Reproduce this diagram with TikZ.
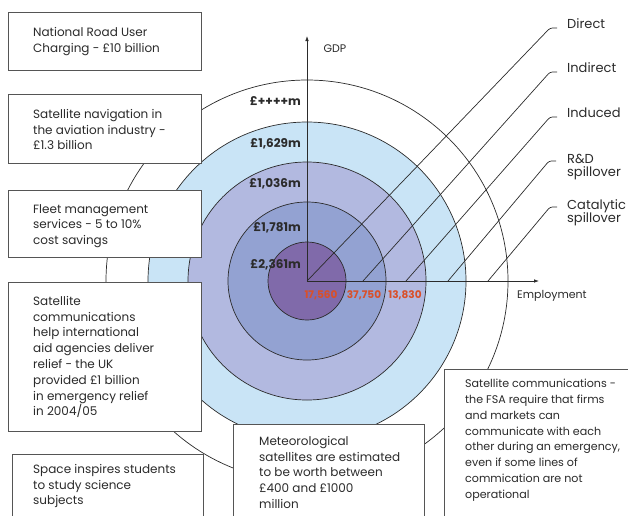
\documentclass[tikz,border=0pt]{standalone}
\usepackage{fontspec}
\setmainfont{Poppins}
\usetikzlibrary{arrows.meta}
\definecolor{ringD}{HTML}{C9E4F6}
\definecolor{ringC}{HTML}{B2B9E0}
\definecolor{ringB}{HTML}{93A2D2}
\definecolor{ringA}{HTML}{806AAA}
\definecolor{ink}{HTML}{2B2B2B}
\definecolor{redval}{HTML}{D9502A}
\begin{document}
\begin{tikzpicture}[x=1pt,y=-1pt,
  ring/.style={draw=ink, line width=0.7pt},
  axis/.style={draw=ink, line width=0.8pt, -{Latex[length=5pt,width=3.6pt]}},
  lead/.style={draw=ink, line width=0.7pt, rounded corners=2.5pt},
  boxframe/.style={draw=ink!80, line width=0.8pt, fill=white, anchor=north west, inner sep=0pt},
  boxtext/.style={anchor=north west, inner sep=0pt, align=left, text=ink, font=\fontsize{12}{15.8}\selectfont},
  gdpval/.style={anchor=east, inner sep=0pt, text=ink, font=\fontsize{12}{13}\selectfont\bfseries},
  empval/.style={inner sep=0pt, text=redval, font=\fontsize{10.5}{12}\selectfont\bfseries},
  kind/.style={anchor=north west, inner sep=0pt, align=left, text=ink, font=\fontsize{13}{13.5}\selectfont},
  axlabel/.style={inner sep=0pt, text=ink, font=\fontsize{11}{13}\selectfont}]
\useasboundingbox (0,0) rectangle (628,515);
\clip (0,0) rectangle (628,515);
\coordinate (O) at (307,281);
% rings
\draw[ring] (O) circle[radius=201];
\filldraw[ring, fill=ringD] (O) circle[radius=159];
\filldraw[ring, fill=ringC] (O) circle[radius=119];
\filldraw[ring, fill=ringB] (O) circle[radius=79];
\filldraw[ring, fill=ringA] (O) circle[radius=39];
% axes
\coordinate (ytop) at (307,36);
\coordinate (xend) at (539,281);
\draw[axis] (O) -- (ytop);
\draw[axis] (O) -- (xend);
\node[axlabel] (gdp) at (335,49) {GDP};
\node[axlabel, anchor=west] (emp) at (517,296) {Employment};
% diagonal leaders
\coordinate (s1) at (307,281); \coordinate (e1) at (550,28);
\coordinate (s2) at (363,281); \coordinate (e2) at (550,72);
\coordinate (s3) at (406,281); \coordinate (e3) at (550,117);
\coordinate (s4) at (448,281); \coordinate (e4) at (549,161);
\coordinate (s5) at (488,281); \coordinate (e5) at (550,207);
\draw[lead] (s1) -- (e1) -- ++(7,0);
\draw[lead] (s2) -- (e2) -- ++(7,0);
\draw[lead] (s3) -- (e3) -- ++(7,0);
\draw[lead] (s4) -- (e4) -- ++(7,0);
\draw[lead] (s5) -- (e5) -- ++(7,0);
\node[kind] (l1) at (567,18) {Direct};
\node[kind] (l2) at (567,62) {Indirect};
\node[kind] (l3) at (567,108) {Induced};
\node[kind] (l4) at (567,154) {R\&D\\spillover};
\node[kind] (l5) at (567,199) {Catalytic\\spillover};
% GDP values
\node[gdpval] (g5) at (301,101) {£++++m};
\node[gdpval] (g4) at (301,144) {£1,629m};
\node[gdpval] (g3) at (301,184) {£1,036m};
\node[gdpval] (g2) at (301,228) {£1,781m};
\node[gdpval] (g1) at (301,265) {£2,361m};
% employment values
\node[empval] (v1) at (321,295) {17,560};
\node[empval] (v2) at (364,295) {37,750};
\node[empval] (v3) at (405,295) {13,830};
% boxes
\node[boxframe, minimum width=193, minimum height=58] (b1) at (8,12) {};
\node[boxtext] (t1) at (33,27) {National Road User\\Charging - £10 billion};
\node[boxframe, minimum width=193, minimum height=69] (b2) at (8,94) {};
\node[boxtext] (t2) at (33,109) {Satellite navigation in\\the aviation industry -\\£1.3 billion};
\node[boxframe, minimum width=193, minimum height=67] (b3) at (8,190) {};
\node[boxtext] (t3) at (33,204) {Fleet management\\services - 5 to 10\%\\cost savings};
\node[boxframe, minimum width=193, minimum height=149] (b4) at (8,282) {};
\node[boxtext] (t4) at (33,296) {Satellite\\communications\\help international\\aid agencies deliver\\relief - the UK\\provided £1 billion\\in emergency relief\\in 2004/05};
\node[boxframe, minimum width=191, minimum height=80] (b5) at (12,454) {};
\node[boxtext] (t5) at (33,464) {Space inspires students\\to study science\\subjects};
\node[boxframe, minimum width=191, minimum height=110] (b6) at (233,424) {};
\node[boxtext] (t6) at (259,436) {Meteorological\\satellites are estimated\\to be worth between\\£400 and £1000\\million};
\node[boxframe, minimum width=200, minimum height=160] (b7) at (444,369) {};
\node[boxtext, font=\fontsize{11.1}{15.8}\selectfont] (t7) at (465,379) {Satellite communications -\\the FSA require that firms\\and markets can\\communicate with each\\other during an emergency,\\even if some lines of\\commication are not\\operational};
\end{tikzpicture}
\end{document}
